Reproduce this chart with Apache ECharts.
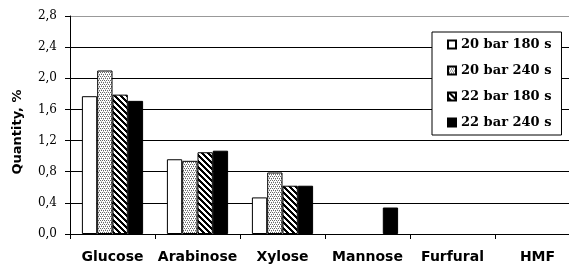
<!DOCTYPE html>
<html><head><meta charset="utf-8">
<script src="https://cdn.jsdelivr.net/npm/echarts@6/dist/echarts.min.js"></script>
<style>html,body{margin:0;padding:0;background:#fff;overflow:hidden;width:569px;height:264px}#c{width:580px;height:264px}</style>
</head><body><div id="c"></div>
<script>
const categories = ['Glucose', 'Arabinose', 'Xylose', 'Mannose', 'Furfural', 'HMF'];
const seriesNames = ['20 bar 180 s', '20 bar 240 s', '22 bar 180 s', '22 bar 240 s'];
const s20_180 = [1.77, 0.96, 0.47, null, null, null];
const s20_240 = [2.10, 0.94, 0.79, null, null, null];
const s22_180 = [1.79, 1.05, 0.62, null, null, null];
const s22_240 = [1.71, 1.07, 0.62, 0.34, null, null];
const yTicks = {min: 0, max: 2.8, interval: 0.4};

function dotted() {
  const c = document.createElement('canvas'); c.width = 4; c.height = 4;
  const g = c.getContext('2d'); g.fillStyle = '#fff'; g.fillRect(0,0,4,4);
  g.fillStyle = '#666';
  g.fillRect(0,0,1,1); g.fillRect(2,0,1,1); g.fillRect(1,2,1,1); g.fillRect(3,2,1,1);
  g.fillStyle = '#bbb';
  g.fillRect(1,1,1,1); g.fillRect(3,3,1,1);
  return c;
}
function hatch() {
  const n = 6; const c = document.createElement('canvas'); c.width = n; c.height = n;
  const g = c.getContext('2d'); g.fillStyle = '#fff'; g.fillRect(0,0,n,n);
  g.fillStyle = '#000';
  for (let y = 0; y < n; y++) for (let x = 0; x < n; x++) {
    const d = ((x - y) % n + n) % n; if (d === 0 || d === 1 || d === 2) g.fillRect(x, y, 1, 1);
  }
  return c;
}
const fills = ['#ffffff', {image: dotted(), repeat: 'repeat'}, {image: hatch(), repeat: 'repeat'}, '#000000'];
const values = [s20_180, s20_240, s22_180, s22_240];

const chart = echarts.init(document.getElementById('c'), null, {renderer: 'canvas'});
chart.setOption({
  animation: false,
  backgroundColor: '#fff',
  grid: {left: 70, right: 0, top: 16, bottom: 30, containLabel: false},
  legend: {
    orient: 'vertical', left: 432, top: 32,
    backgroundColor: '#fff', borderColor: '#000', borderWidth: 1,
    padding: [6, 10, 6, 15], itemGap: 13, itemWidth: 8, itemHeight: 8,
    icon: 'rect',
    textStyle: {fontFamily: 'DejaVu Serif', fontWeight: 'bold', fontSize: 13, color: '#000'},
    data: seriesNames
  },
  xAxis: {
    type: 'category', data: categories,
    axisLine: {lineStyle: {color: '#000', width: 1}},
    axisTick: {show: true, length: 5, lineStyle: {color: '#000'}},
    axisLabel: {fontFamily: 'DejaVu Sans', fontWeight: 'bold', fontSize: 14, color: '#000', margin: 16, interval: 0}
  },
  yAxis: {
    type: 'value', min: yTicks.min, max: yTicks.max, interval: yTicks.interval,
    name: 'Quantity, %', nameLocation: 'middle', nameGap: 46,
    nameTextStyle: {fontFamily: 'DejaVu Sans', fontWeight: 'bold', fontSize: 13, color: '#000', padding: [0, 14, 0, 0]},
    axisLine: {show: true, lineStyle: {color: '#000', width: 1}},
    axisTick: {show: true, length: 5, inside: false, lineStyle: {color: '#000'}},
    axisLabel: {fontFamily: 'DejaVu Serif', fontSize: 12, color: '#000', margin: 13,
      formatter: function(v){ return v.toFixed(1).replace('.', ','); }},
    splitLine: {show: true, lineStyle: {color: ['#000','#000','#000','#000','#000','#000','#000','#999'], width: 1}}
  },
  series: seriesNames.map(function(n, i){
    return {
      name: n, type: 'bar', data: values[i], barGap: '0%', barCategoryGap: '28%',
      itemStyle: {color: fills[i], borderColor: '#000', borderWidth: 1}
    };
  })
});
</script></body></html>
